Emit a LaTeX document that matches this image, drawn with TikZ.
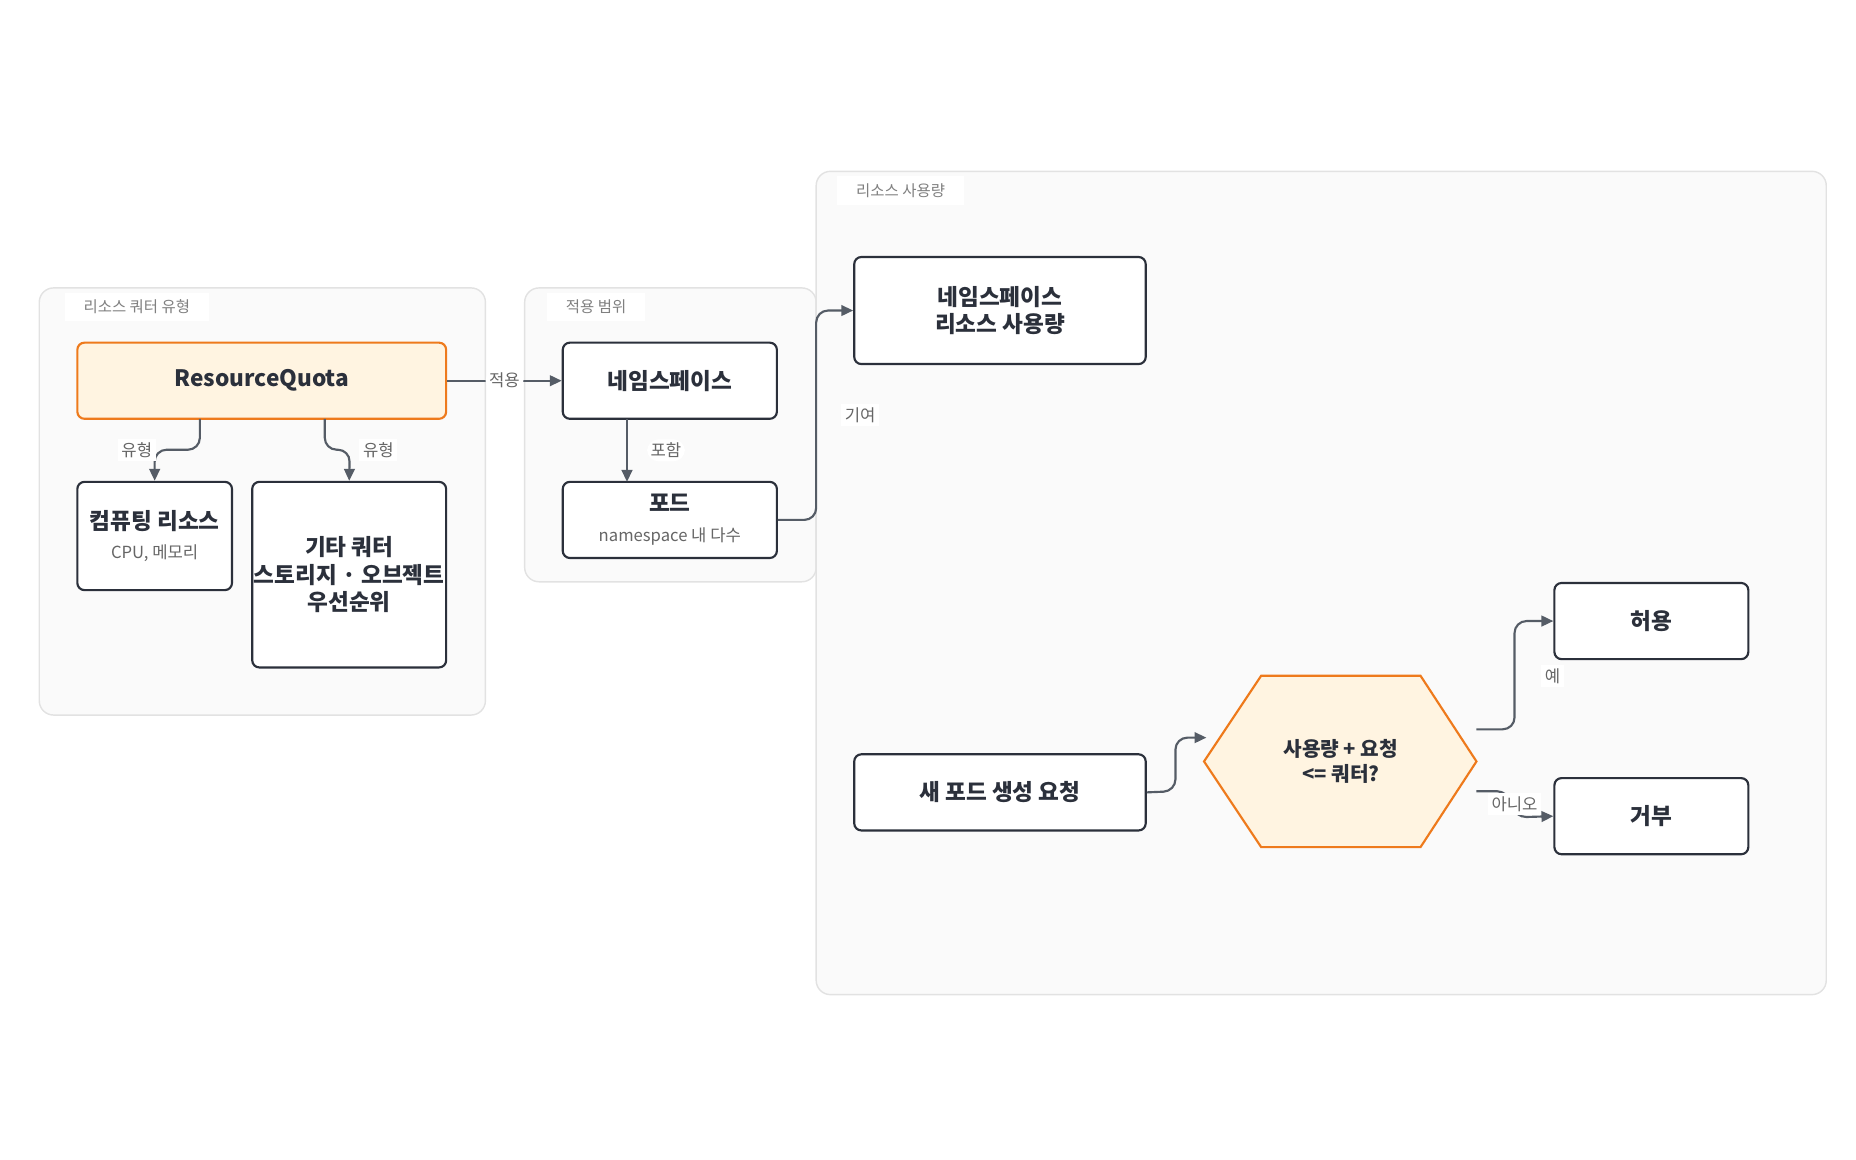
\documentclass[tikz,border=0pt]{standalone}
\usepackage{fontspec}
\setmainfont{Noto Sans CJK KR}
\usetikzlibrary{shapes.geometric, arrows.meta, positioning}
\definecolor{edgegray}{HTML}{555C66}
\definecolor{boxline}{HTML}{2B303B}
\definecolor{qfill}{HTML}{FFF4E1}
\definecolor{qline}{HTML}{EE7A1C}
\definecolor{grpfill}{HTML}{FAFAFA}
\definecolor{grpline}{HTML}{E2E2E2}
\newcommand{\subtext}[1]{{\normalfont\fontsize{7}{8}\selectfont\color{gray!80!black}#1}}
\tikzset{
  group/.style={draw=grpline, fill=grpfill, rounded corners=6pt, line width=0.6pt},
  grplabel/.style={fill=white, text=gray, font=\fontsize{6.5}{8}\selectfont, inner xsep=8pt, inner ysep=3pt},
  box/.style={draw=boxline, fill=white, rounded corners=3pt, line width=0.9pt, align=center, font=\bfseries\fontsize{9.5}{11.5}\selectfont, text=boxline},
  quota/.style={box, draw=qline, fill=qfill},
  hexshape/.style={draw=qline, fill=qfill, line width=0.9pt},
  decision/.style={align=center, font=\bfseries\fontsize{8.5}{10.5}\selectfont, text=boxline, inner sep=0pt},
  arrow/.style={draw=edgegray, line width=0.9pt, -{Triangle[length=5pt,width=4.5pt]}, rounded corners=5pt},
  elabel/.style={fill=white, text=gray!80!black, font=\fontsize{7}{8}\selectfont, inner sep=1.5pt}
}
\begin{document}
\begin{tikzpicture}[x=0.5pt, y=-0.5pt]
        \useasboundingbox (0,0) rectangle (1560,975);
        % Groups
        \draw [group] (33,242) rectangle (408,601);
        \draw [group] (441,242) rectangle (686,489);
        \draw [group] (686,144) rectangle (1535,836);
        \node [grplabel] at (115,258) {리소스 쿼터 유형};
        \node [grplabel] at (501,258) {적용 범위};
        \node [grplabel] at (757,160) {리소스 사용량};

        % Nodes
        \node (quota) [quota, minimum width=155pt, minimum height=32pt] at (220,320) {ResourceQuota};
        \node (compute) [box, minimum width=65pt, minimum height=45.5pt] at (130,450.5) {컴퓨팅 리소스\\[1pt]\subtext{CPU, 메모리}};
        \node (other) [box, minimum width=81.5pt, minimum height=78pt, inner xsep=0pt, text depth=0pt] at (293.5,483) {};
        \node [box, draw=none, fill=none, inner xsep=0pt] at (293.5,483) {기타 쿼터\\스토리지 · 오브젝트\\우선순위};
        \node (ns) [box, minimum width=90pt, minimum height=32pt] at (563,320) {네임스페이스};
        \node (pod) [box, minimum width=90pt, minimum height=32pt] at (563,437) {포드\\[1pt]\subtext{namespace 내 다수}};
        \node (usage) [box, minimum width=122.5pt, minimum height=45pt] at (840.5,261) {네임스페이스\\리소스 사용량};
        \node (newpod) [box, minimum width=122.5pt, minimum height=32pt] at (840.5,666) {새 포드 생성 요청};
        \draw [hexshape] (1012,640) -- (1060,568) -- (1194,568) -- (1241,640) -- (1194,712) -- (1060,712) -- cycle;
        \node (check) [decision] at (1127,640) {사용량 + 요청\\<= 쿼터?};
        \node (allow) [box, minimum width=81.5pt, minimum height=32pt] at (1388,522) {허용};
        \node (deny) [box, minimum width=81.5pt, minimum height=32pt] at (1388,686) {거부};

        % Arrows
        \draw [arrow] (168,352) -- (168,378) -- (130,378) -- (compute.north);
        \draw [arrow] (273,352) -- (273,378) -- (294,378) -- (other.north);
        \draw [arrow] (quota.east) -- (ns.west) node [elabel, pos=0.5] {적용};
        \draw [arrow] (527,352) -- (527,405) node [elabel, pos=0.5, right=8pt] {포함};
        \draw [arrow] (pod.east) -- (686,437) -- (686,261) -- (usage.west);
        \draw [arrow] (newpod.east) -- (988,665) -- (988,620) -- (1014,620);
        \draw [arrow] (1241,613) -- (1273,613) -- (1273,522) -- (allow.west);
        \draw [arrow] (1241,665) -- (1268,665) -- (1273,687) -- (deny.west);

        % Edge labels
        \node [elabel] at (115,378) {유형};
        \node [elabel] at (318,378) {유형};
        \node [elabel] at (723,349) {기여};
        \node [elabel] at (1305,568) {예};
        \node [elabel] at (1273,676) {아니오};
    \end{tikzpicture}
\end{document}
